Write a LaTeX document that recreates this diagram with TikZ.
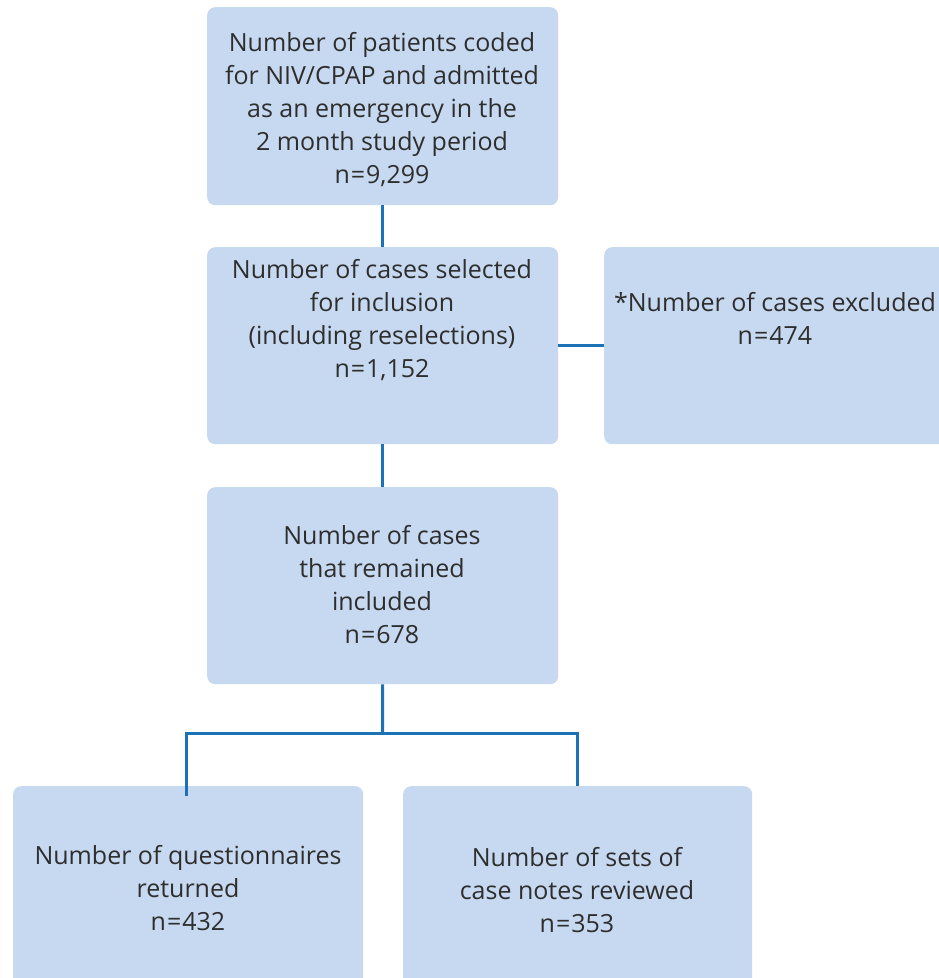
\documentclass[tikz,border=0pt]{standalone}
\usepackage{fontspec}
\setmainfont{Open Sans}
\definecolor{boxfill}{HTML}{C6D9F0}
\definecolor{linkcol}{HTML}{1B72B5}
\definecolor{txt}{HTML}{2E2E2E}
\newcommand{\eqs}{\kern1pt=\kern1pt}
\begin{document}
\begin{tikzpicture}[x=1pt,y=-1pt,
  box/.style={draw=none,fill=boxfill,rounded corners=8pt,anchor=north west,inner sep=0pt},
  lbl/.style={text=txt,align=center,font=\fontsize{25}{33}\selectfont,inner sep=0pt},
  link/.style={draw=linkcol,line width=3pt}]
\useasboundingbox (0,0) rectangle (939,978);
\clip (0,0) rectangle (939,978);
\node[box,minimum width=351pt,minimum height=198pt] (b1) at (207,7) {};
\node[box,minimum width=351pt,minimum height=197pt] (b2) at (207,247) {};
\node[box,minimum width=360pt,minimum height=197pt] (b3) at (604,247) {};
\node[box,minimum width=351pt,minimum height=197pt] (b4) at (207,487) {};
\node[box,minimum width=350pt,minimum height=230pt] (b5) at (13,786) {};
\node[box,minimum width=349pt,minimum height=230pt] (b6) at (403,786) {};
\node[lbl] (t1) at (382,110) {Number of patients coded\\for NIV/CPAP and admitted\\as an emergency in the\\2 month study period\\n\eqs9,299};
\node[lbl] (t2) at (382,320) {Number of cases selected\\for inclusion\\(including reselections)\\n\eqs1,152};
\node[lbl] (t3) at (775,318) {*Number of cases excluded\\n\eqs474};
\node[lbl] (t4) at (382,585) {Number of cases\\that remained\\included\\n\eqs678};
\node[lbl] (t5) at (188,888) {Number of questionnaires\\returned\\n\eqs432};
\node[lbl] (t6) at (577,890) {Number of sets of\\case notes reviewed\\n\eqs353};
\coordinate (j) at (382.5,733);
\coordinate (jl) at (186,796);
\coordinate (jr) at (577,786);
\draw[link] (b1.south) -- (b2.north);
\draw[link] (b2.east) -- (b3.west);
\draw[link] (b2.south) -- (b4.north);
\draw[link] (b4.south) -- (j);
\draw[link] (jl) |- (j) -| (jr);
\end{tikzpicture}
\end{document}
